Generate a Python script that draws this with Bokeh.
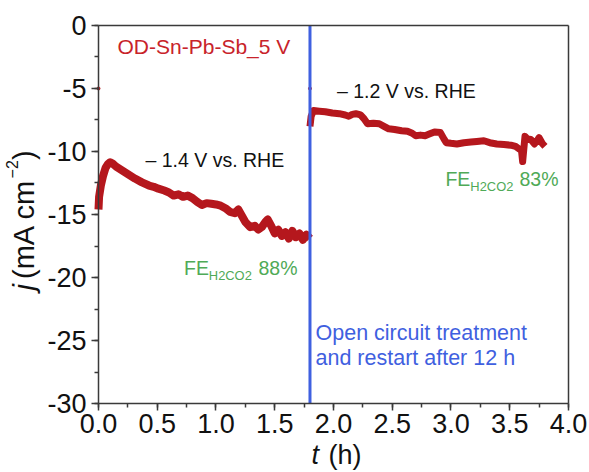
import math

from bokeh.plotting import figure
from bokeh.models import (Range1d, SingleIntervalTicker, FixedTicker, PrintfTickFormatter,
                          LinearAxis, Label)
from bokeh.embed import file_html
from bokeh.resources import INLINE

# Chronoamperometry, OD-Sn-Pb-Sb_5 V electrode
# first run at -1.4 V vs. RHE
seg1_t = [0.00, 0.005, 0.02, 0.04, 0.06, 0.08, 0.10, 0.12, 0.15, 0.20, 0.25, 0.31,
          0.37, 0.43, 0.47, 0.51, 0.56, 0.60, 0.64, 0.68, 0.72, 0.76, 0.80, 0.84,
          0.88, 0.92, 0.96, 1.00, 1.04, 1.08, 1.12, 1.16, 1.19, 1.22, 1.25, 1.29,
          1.33, 1.36, 1.39, 1.42, 1.44, 1.47, 1.50, 1.53, 1.56, 1.59, 1.62, 1.65,
          1.68, 1.71, 1.74, 1.77, 1.80]
seg1_j = [-14.6, -13.6, -12.7, -11.9, -11.3, -11.0, -10.85, -10.95, -11.2, -11.5, -11.8, -12.15,
          -12.45, -12.7, -12.8, -12.95, -13.1, -13.25, -13.5, -13.4, -13.6, -13.5, -13.7, -14.0,
          -14.25, -14.1, -14.15, -14.2, -14.3, -14.5, -14.8, -14.9, -14.6, -15.1, -15.6, -16.0,
          -15.9, -16.2, -16.0, -15.6, -15.4, -15.9, -16.5, -16.2, -16.7, -16.4, -16.9, -16.3,
          -16.8, -16.5, -17.0, -16.6, -16.9]

# second run at -1.2 V vs. RHE, after 12 h at open circuit
seg2_t = [1.80, 1.81, 1.83, 1.88, 1.93, 1.99, 2.05, 2.10, 2.13, 2.16, 2.19, 2.23,
          2.26, 2.29, 2.34, 2.39, 2.43, 2.47, 2.52, 2.58, 2.63, 2.67, 2.70, 2.74,
          2.78, 2.82, 2.86, 2.91, 2.94, 2.96, 3.00, 3.05, 3.11, 3.17, 3.22, 3.28,
          3.33, 3.39, 3.45, 3.51, 3.55, 3.58, 3.60, 3.61, 3.62, 3.63, 3.65, 3.68,
          3.71, 3.73, 3.75, 3.78, 3.80]
seg2_j = [-8.0, -7.2, -6.75, -6.8, -6.85, -6.95, -7.0, -7.1, -7.2, -7.05, -7.0, -7.1,
          -7.4, -7.8, -7.75, -7.8, -8.0, -8.2, -8.25, -8.35, -8.4, -8.55, -8.75, -8.7,
          -8.75, -8.6, -8.45, -8.5, -9.0, -9.3, -9.35, -9.4, -9.3, -9.25, -9.2, -9.15,
          -9.3, -9.4, -9.45, -9.5, -9.6, -9.8, -9.9, -10.8, -9.8, -8.8, -9.0, -9.05,
          -9.4, -9.2, -8.9, -9.4, -9.6]

# first recorded point of each run
start_t = [0.0, 1.8]
start_j = [-5.0, -5.0]

restart_time = 1.8
t_lim = (0.0, 4.0)
j_lim = (-30.0, 0.0)

RED = "#B5171D"
RED_TXT = "#C8232A"
BLUE = "#3F60E0"
GREEN = "#4FAA57"
INK = "#111111"
AXIS = "#3a3a3a"
FONT = "Liberation Sans"

# the frame fills the canvas; the axes sit at fixed data positions inside it,
# which leaves room for the hand-set axis titles
x_lo, x_hi = -0.834, 4.179
y_lo, y_hi = -35.476, 1.984
W, H = 589, 472
px_per_t = W / (x_hi - x_lo)
px_per_j = H / (y_hi - y_lo)

p = figure(width=W, height=H, output_backend="svg", toolbar_location=None,
           x_range=Range1d(x_lo, x_hi), y_range=Range1d(y_lo, y_hi),
           x_axis_location=None, y_axis_location=None, min_border=0)
for g in p.grid:
    g.visible = False
p.outline_line_color = None
p.background_fill_color = "white"
p.border_fill_color = "white"


def style_axis(ax):
    ax.axis_line_color = AXIS
    ax.axis_line_width = 1.5
    ax.major_tick_line_color = AXIS
    ax.minor_tick_line_color = AXIS
    ax.major_tick_line_width = 1.5
    ax.minor_tick_line_width = 1.5
    ax.major_tick_out = 7
    ax.major_tick_in = 0
    ax.minor_tick_out = 4
    ax.minor_tick_in = 0
    ax.major_label_text_font = FONT
    ax.major_label_text_font_size = "27px"
    ax.major_label_text_color = INK


xaxis = LinearAxis(fixed_location=j_lim[0], bounds=t_lim,
                   ticker=SingleIntervalTicker(interval=0.5, num_minor_ticks=2),
                   formatter=PrintfTickFormatter(format="%.1f"))
style_axis(xaxis)
xaxis.major_label_standoff = 3
p.add_layout(xaxis, "below")

yaxis = LinearAxis(fixed_location=t_lim[0], bounds=j_lim,
                   ticker=SingleIntervalTicker(interval=5, num_minor_ticks=2),
                   formatter=PrintfTickFormatter(format="%d"))
style_axis(yaxis)
yaxis.major_label_standoff = 5
p.add_layout(yaxis, "left")

# plain top and right edges of the box
for side, loc, bnd in (("above", j_lim[1], t_lim), ("right", t_lim[1], j_lim)):
    edge = LinearAxis(fixed_location=loc, bounds=bnd, ticker=FixedTicker(ticks=[]),
                      major_label_text_color=None)
    edge.axis_line_color = AXIS
    edge.axis_line_width = 1.5
    edge.major_tick_line_color = None
    edge.minor_tick_line_color = None
    p.add_layout(edge, side)

# current traces
p.line(seg1_t, seg1_j, line_color=RED, line_width=8, line_join="round")
p.line(seg2_t, seg2_j, line_color=RED, line_width=7, line_join="round")
p.scatter(start_t, start_j, size=3, color=RED)

# open-circuit interruption marker
p.segment(x0=[restart_time], y0=[j_lim[0]], x1=[restart_time], y1=[j_lim[1]],
          line_color=BLUE, line_width=3)


def label(x, y, text, size, color=INK, style="normal", angle=0.0):
    """Text whose baseline starts at (x, y); the renderer sets it about a
    third of an em low, so lift it by that much along the glyphs' up side."""
    lift = 0.34 * size
    if angle:
        x -= lift / px_per_t
    else:
        y += lift / px_per_j
    p.add_layout(Label(x=x, y=y, text=text, text_font=FONT, text_font_size=f"{size}px",
                       text_color=color, text_font_style=style, angle=angle,
                       text_align="left", text_baseline="alphabetic"))


label(0.162, -2.25, "OD-Sn-Pb-Sb_5 V", 21, RED_TXT)
label(0.40, -11.24, "\u2013 1.4 V vs. RHE", 19.5)
label(2.03, -5.69, "\u2013 1.2 V vs. RHE", 19.5)

# Faradaic efficiency to formic acid
label(0.728, -19.76, "FE", 19.5, GREEN)
label(0.939, -20.16, "H2CO2", 12.9, GREEN)
label(1.362, -19.76, "88%", 19.5, GREEN)
label(2.953, -12.70, "FE", 19.5, GREEN)
label(3.165, -13.10, "H2CO2", 12.9, GREEN)
label(3.583, -12.70, "83%", 19.5, GREEN)

label(1.847, -24.95, "Open circuit treatment", 21.5, BLUE)
label(1.847, -26.98, "and restart after 12 h", 21.5, BLUE)

# axis titles
label(1.813, -34.85, "t", 27, INK, "italic")
label(1.957, -34.85, "(h)", 27, INK)

up = math.pi / 2
label(-0.553, -21.03, "j", 29, INK, "italic", up)
label(-0.553, -20.12, "(mA cm", 29, INK, "normal", up)
label(-0.689, -12.14, "\u22122", 16, INK, "normal", up)
label(-0.553, -10.67, ")", 29, INK, "normal", up)

open("out.html", "w").write(file_html(p, INLINE))
